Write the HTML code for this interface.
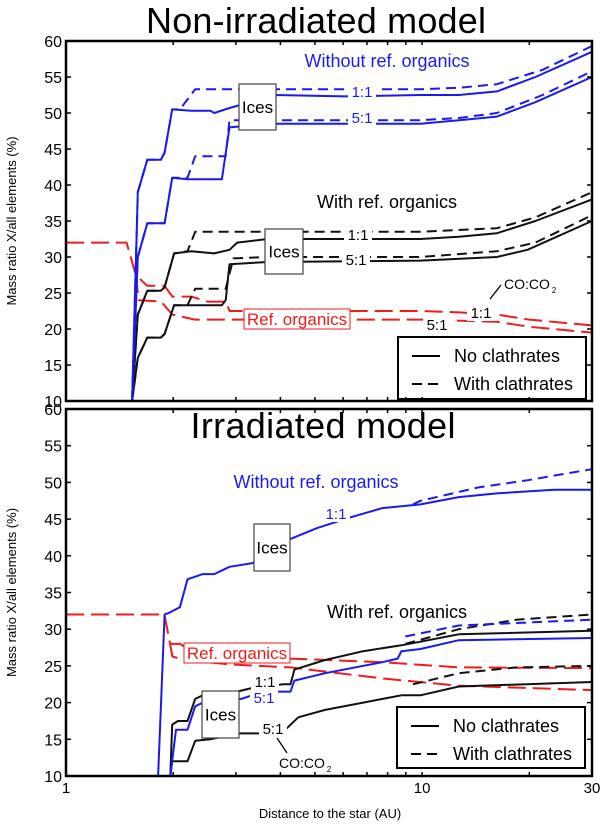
<!DOCTYPE html>
<html><head><meta charset="utf-8">
<style>
html,body{margin:0;padding:0;background:#fff;}
svg{display:block;font-family:"Liberation Sans",sans-serif;}
</style></head>
<body>
<svg id="chart" width="600" height="824" viewBox="0 0 600 824" xmlns="http://www.w3.org/2000/svg">
<g id="layer"></g>
</svg>
<script>
// ===== data: top panel (Non-irradiated) =====
const topBlue11Solid_x = [1.533,1.591,1.692,1.846,1.892,1.987,2.248,2.545,2.608,2.879,3.873,6.04,9.9,12.68,16.22,20.8,30];
const topBlue11Solid_y = [10,39,43.5,43.5,44.5,50.5,50.3,50.3,50,50.7,52.5,52.3,52.5,52.5,53,55,58.5];
const topBlue11Dash_x = [1.533,1.591,1.692,1.846,1.892,1.987,2.088,2.306,9.9,12.68,16.22,21.8,30];
const topBlue11Dash_y = [10,39,43.5,43.5,44.5,50.5,50.5,53.3,53.3,53.5,54,56,59.3];
const topBlue51Solid_x = [1.533,1.591,1.692,1.892,1.987,2.194,2.741,2.879,3.686,9.9,12.68,16.22,20.8,30];
const topBlue51Solid_y = [10,30,34.7,34.7,41,40.8,40.8,48,48.5,48.5,49,49.5,51.5,55];
const topBlue51Dash_x = [1.533,1.591,1.692,1.892,1.987,2.194,2.306,2.809,2.879,9.9,12.68,16.22,21.8,30];
const topBlue51Dash_y = [10,30,34.7,34.7,41,41,44,44,49,49,49.3,50,52.5,55.8];
const topBlack11Solid_x = [1.533,1.591,1.692,1.846,1.892,2.012,2.248,2.608,2.879,3.025,3.686,9.9,12.68,16.22,20.8,30];
const topBlack11Solid_y = [10,22,25.3,25.3,25.8,30.5,30.8,30.5,31,32,32.5,32.5,32.8,33.3,35,38];
const topBlack11Dash_x = [1.533,1.591,1.692,1.846,1.892,2.012,2.194,2.306,9.9,16.22,20.8,30];
const topBlack11Dash_y = [10,22,25.3,25.3,25.8,30.5,30.8,33.5,33.5,34,35.5,39];
const topBlack51Solid_x = [1.533,1.591,1.692,1.846,1.892,2.012,2.741,2.809,2.879,3.686,9.9,16.22,19.77,30];
const topBlack51Solid_y = [10,16,18.8,18.8,19.3,23.3,23.3,24,29,29.3,29.5,30,31,35];
const topBlack51Dash_x = [1.533,1.591,1.692,1.846,1.892,2.012,2.194,2.306,2.809,2.951,3.686,9.9,16.22,20.8,30];
const topBlack51Dash_y = [10,16,18.8,18.8,19.3,23.3,23.3,25.6,25.6,29.8,30,30,30.8,32,35.8];
const topRed11_x = [1,1.48,1.57,1.69,1.89,1.99,2.25,2.5,2.81,2.88,10,12.7,16.2,20,30];
const topRed11_y = [32,32,27.5,26,26,24.5,24.5,23.8,23.8,22.5,22.5,22.3,22,21.3,20.5];
const topRed51_x = [1.57,1.6,1.85,1.99,2.3,10,16.2,20,30];
const topRed51_y = [27.5,24,23.8,22,21.3,21.3,21,20.3,19.5];

// ===== data: bottom panel (Irradiated) =====
const botBlue11Solid_x = [1.814,1.892,1.94,2.088,2.194,2.422,2.608,2.879,3.34,4.27,5.08,6.35,7.73,9.9,12.68,16.2,23.5,30];
const botBlue11Solid_y = [10,32,32.2,33,36.8,37.5,37.5,38.5,39,42.3,43.8,45.3,46.5,47,48,48.5,49,49];
const botBlue11Dash_x = [9.42,9.9,14.35,19.8,25.3,30];
const botBlue11Dash_y = [47,47.5,49.3,50.3,51.2,51.8];
const botBlue51Solid_x = [1.963,2.037,2.194,2.306,2.422,3.10,3.60,4.27,4.38,5.34,7.73,8.54,8.75,9.9,12.68,30];
const botBlue51Solid_y = [10,16.3,16.3,19.5,20,20.5,21.5,21.5,23,24,25.5,26,27,27.3,28.5,28.8];
const botBlue51Dash_x = [8.97,12.68,30];
const botBlue51Dash_y = [29,30.5,31.3];
const botBlack11Solid_x = [1.963,1.987,2.063,2.194,2.306,2.422,3.025,3.34,4.07,4.27,4.38,5.34,6.83,8.75,9.9,12.68,30];
const botBlack11Solid_y = [10,17,17.5,17.5,20.5,21,21.5,22,22.5,22.5,24.5,25.8,27,27.8,28.3,29.3,29.8];
const botBlack11Dash_x = [8.97,12.68,18.4,30];
const botBlack11Dash_y = [28,30,31.3,32];
const botBlack51Solid_x = [1.963,1.987,2.194,2.306,2.545,3.025,3.51,4.17,4.49,5.34,6.83,8.75,9.9,12.68,30];
const botBlack51Solid_y = [10,12,12,14.8,15,15.8,15.8,16.5,18,19,20,21,21,22.2,22.8];
const botBlack51Dash_x = [9.42,12.68,18.4,30];
const botBlack51Dash_y = [22.5,24,24.8,25];
const botRed11_x = [1,1.89,1.96,1.99,2.09,2.25,2.61,4.27,7.73,12.68,30];
const botRed11_y = [32,32,28,28,28,27,26.5,26,25.5,24.8,24.7];
const botRed51_x = [1.96,1.99,2.14,2.88,4.27,7.73,12.68,30];
const botRed51_y = [28,26.3,25.8,25.2,24.8,23.3,22.3,21.7];

const yTicks = [10,15,20,25,30,35,40,45,50,55,60];
const xTickLabels = ["1","10","30"];
const xTickVals = [1,10,30];
const xMinor = [2,3,4,5,6,7,8,9,20];

const NS = "http://www.w3.org/2000/svg";
const layer = document.getElementById('layer');
const X0 = 66, X1 = 592;
function xs(v){ return X0 + Math.log10(v) * (X1 - X0) / Math.log10(30); }
function mk(tag, attrs, parent){
  const e = document.createElementNS(NS, tag);
  for (const k in attrs) e.setAttribute(k, attrs[k]);
  (parent || layer).appendChild(e);
  return e;
}
function txt(x, y, s, size, fill, anchor, parent){
  const t = mk('text', {x:x, y:y, 'font-size':size, fill:fill||'#000', 'text-anchor':anchor||'middle'}, parent);
  t.textContent = s;
  return t;
}

function panel(name, yTop, yBot, series, labels){
  const g = mk('g', {});
  
  
  const ys = v => yBot - (v - 10) * (yBot - yTop) / 50;
  series.forEach(s => {
    let d = '';
    s.x.forEach((xv, i) => { d += (i ? 'L' : 'M') + xs(xv).toFixed(1) + ',' + ys(s.y[i]).toFixed(1); });
    const p = mk('path', {d:d, fill:'none', stroke:s.c, 'stroke-width':2, 'stroke-linejoin':'round'}, g);
    if (s.dash) p.setAttribute('stroke-dasharray', s.dash);
    
    
  });
  labels(g, ys);
  const fr = mk('rect', {x:X0, y:yTop, width:X1-X0, height:yBot-yTop, fill:'none', stroke:'#000', 'stroke-width':2.5}, g);
  
  
  yTicks.forEach(v => {
    const y = ys(v);
    mk('line', {x1:X0, x2:X0+5, y1:y, y2:y, stroke:'#000', 'stroke-width':1.5}, g);
    mk('line', {x1:X1, x2:X1-5, y1:y, y2:y, stroke:'#000', 'stroke-width':1.5}, g);
    const t = txt(62, y + 6, String(v), 16, '#000', 'end', g);
    
    
  });
  xMinor.concat([10]).forEach(v => {
    const x = xs(v);
    mk('line', {x1:x, x2:x, y1:yBot, y2:yBot-4, stroke:'#000', 'stroke-width':1.5}, g);
    mk('line', {x1:x, x2:x, y1:yTop, y2:yTop+4, stroke:'#000', 'stroke-width':1.5}, g);
  });
  const yt = txt(0, 0, 'Mass ratio X/all elements (%)', 13, '#000', 'middle', g);
  yt.setAttribute('transform', 'translate(16,' + ((yTop + yBot) / 2) + ') rotate(-90)');
  
  
  return g;
}
function icesBox(g, x, y, w, h){
  const r = mk('rect', {x:x, y:y, width:w, height:h, fill:'#fff', stroke:'#444', 'stroke-width':1.2}, g);
  
  
  const t = txt(x + w/2, y + h/2 + 6, 'Ices', 17, '#000', 'middle', g);
  
  
}
function lbl(g, x, y, s, size, col, name){
  const t = txt(x, y, s, size, col, 'middle', g);
  
  
  return t;
}
function gapLbl(g, x, y, s, col, name){
  mk('rect', {x:x-14, y:y-13, width:28, height:16, fill:'#fff'}, g);
  lbl(g, x, y, s, 15, col, name);
}
function legend(g, x, y, w, h){
  const lg = mk('g', {}, g);
  
  
  mk('rect', {x:x, y:y, width:w, height:h, fill:'#fff', stroke:'#000', 'stroke-width':2}, lg);
  mk('line', {x1:x+14, x2:x+42, y1:y+19, y2:y+19, stroke:'#000', 'stroke-width':2}, lg);
  mk('line', {x1:x+14, x2:x+42, y1:y+47, y2:y+47, stroke:'#000', 'stroke-width':2, 'stroke-dasharray':'10,6'}, lg);
  const a = txt(x+56, y+25, 'No clathrates', 18, '#000', 'start', lg);
  
  
  const b = txt(x+56, y+53, 'With clathrates', 18, '#000', 'start', lg);
  
  
}

const BLUE = '#1a1aee', RED = '#ee1c1c', BLK = '#111';
const D = '10,6', RD = '18,7';

const tTitle = txt(316, 33, 'Non-irradiated model', 36, '#000', 'middle');
tTitle.setAttribute('textLength', '340');



panel('top-panel', 41, 401, [
  {n:'red-1to1', x:topRed11_x, y:topRed11_y, c:RED, dash:RD},
  {n:'red-5to1', x:topRed51_x, y:topRed51_y, c:RED, dash:RD},
  {n:'black-1to1-solid', x:topBlack11Solid_x, y:topBlack11Solid_y, c:BLK},
  {n:'black-1to1-dashed', x:topBlack11Dash_x, y:topBlack11Dash_y, c:BLK, dash:D},
  {n:'black-5to1-solid', x:topBlack51Solid_x, y:topBlack51Solid_y, c:BLK},
  {n:'black-5to1-dashed', x:topBlack51Dash_x, y:topBlack51Dash_y, c:BLK, dash:D},
  {n:'blue-1to1-solid', x:topBlue11Solid_x, y:topBlue11Solid_y, c:BLUE},
  {n:'blue-1to1-dashed', x:topBlue11Dash_x, y:topBlue11Dash_y, c:BLUE, dash:D},
  {n:'blue-5to1-solid', x:topBlue51Solid_x, y:topBlue51Solid_y, c:BLUE},
  {n:'blue-5to1-dashed', x:topBlue51Dash_x, y:topBlue51Dash_y, c:BLUE, dash:D}
], (g, ys) => {
  lbl(g, 387, 67, 'Without ref. organics', 18, BLUE, 'without-ref-organics-label');
  lbl(g, 387, 208, 'With ref. organics', 18, '#000', 'with-ref-organics-label');
  gapLbl(g, 362, 97, '1:1', BLUE, 'blue-1to1-label');
  gapLbl(g, 362, 123, '5:1', BLUE, 'blue-5to1-label');
  gapLbl(g, 358, 240, '1:1', '#000', 'black-1to1-label');
  gapLbl(g, 356, 265, '5:1', '#000', 'black-5to1-label');
  gapLbl(g, 481, 318, '1:1', '#000', 'red-1to1-label');
  gapLbl(g, 437, 330, '5:1', '#000', 'red-5to1-label');
  lbl(g, 527, 289, 'CO:CO', 14, '#000', 'co-co2-label');
  lbl(g, 554, 293, '2', 8, '#000', 'co-co2-subscript');
  mk('line', {x1:501, y1:285, x2:490, y2:299, stroke:'#000', 'stroke-width':1.3}, g);
  mk('rect', {x:244, y:309, width:106, height:20, fill:'#fff', stroke:RED, 'stroke-width':1}, g);
  lbl(g, 297, 325, 'Ref. organics', 17, RED, 'ref-organics-label');
  icesBox(g, 239, 84, 37, 46);
  icesBox(g, 265, 229, 38, 45);
  legend(g, 398, 337, 188, 62);
});

panel('bottom-panel', 409, 776, [
  {n:'red-1to1', x:botRed11_x, y:botRed11_y, c:RED, dash:RD},
  {n:'red-5to1', x:botRed51_x, y:botRed51_y, c:RED, dash:RD},
  {n:'black-1to1-solid', x:botBlack11Solid_x, y:botBlack11Solid_y, c:BLK},
  {n:'black-1to1-dashed', x:botBlack11Dash_x, y:botBlack11Dash_y, c:BLK, dash:D},
  {n:'black-5to1-solid', x:botBlack51Solid_x, y:botBlack51Solid_y, c:BLK},
  {n:'black-5to1-dashed', x:botBlack51Dash_x, y:botBlack51Dash_y, c:BLK, dash:D},
  {n:'blue-1to1-solid', x:botBlue11Solid_x, y:botBlue11Solid_y, c:BLUE},
  {n:'blue-1to1-dashed', x:botBlue11Dash_x, y:botBlue11Dash_y, c:BLUE, dash:D},
  {n:'blue-5to1-solid', x:botBlue51Solid_x, y:botBlue51Solid_y, c:BLUE},
  {n:'blue-5to1-dashed', x:botBlue51Dash_x, y:botBlue51Dash_y, c:BLUE, dash:D}
], (g, ys) => {
  const bt = txt(323, 438, 'Irradiated model', 36, '#000', 'middle', g);
  bt.setAttribute('textLength', '265');
  
  
  lbl(g, 316, 488, 'Without ref. organics', 18, BLUE, 'without-ref-organics-label');
  lbl(g, 397, 618, 'With ref. organics', 18, '#000', 'with-ref-organics-label');
  gapLbl(g, 336, 519, '1:1', BLUE, 'blue-1to1-label');
  gapLbl(g, 265, 687, '1:1', '#000', 'black-1to1-label');
  gapLbl(g, 264, 703, '5:1', BLUE, 'blue-5to1-label');
  gapLbl(g, 273, 734, '5:1', '#000', 'black-5to1-label');
  lbl(g, 302, 768, 'CO:CO', 14, '#000', 'co-co2-label');
  lbl(g, 329, 772, '2', 8, '#000', 'co-co2-subscript');
  mk('line', {x1:287, y1:753, x2:277, y2:738, stroke:'#000', 'stroke-width':1.3}, g);
  mk('rect', {x:184, y:643, width:106, height:20, fill:'#fff', stroke:RED, 'stroke-width':1}, g);
  lbl(g, 237, 659, 'Ref. organics', 17, RED, 'ref-organics-label');
  icesBox(g, 254, 524, 36, 47);
  icesBox(g, 202, 691, 37, 47);
  legend(g, 397, 707, 188, 61);
});

xTickVals.forEach((v, i) => {
  const t = txt(xs(v), 793, xTickLabels[i], 15, '#000', 'middle');
  
  
});
const xt = txt(330, 818, 'Distance to the star  (AU)', 13, '#000', 'middle');


</script>
</body></html>
